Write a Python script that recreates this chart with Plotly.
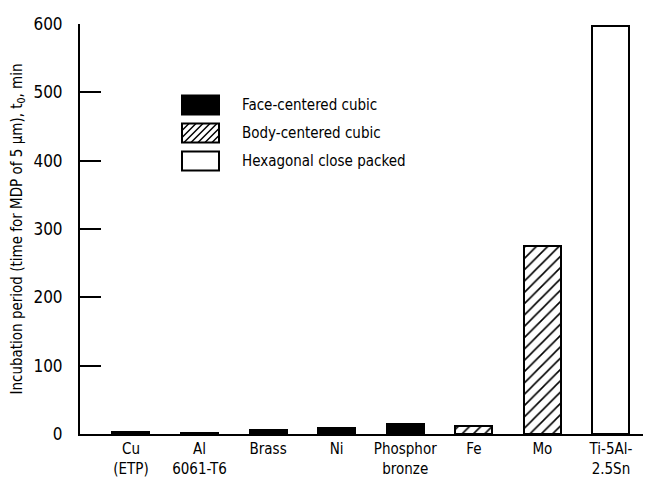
import plotly.graph_objects as go

# ── Data ──────────────────────────────────────────────────────────────
materials = ["Cu<br>(ETP)", "Al<br>6061-T6", "Brass", "Ni",
             "Phosphor<br>bronze", "Fe", "Mo", "Ti-5Al-<br>2.5Sn"]
incubation_min = [2.5, 1.5, 6, 9, 15, 12, 275, 597]
structure = ["fcc", "fcc", "fcc", "fcc", "fcc", "bcc", "bcc", "hcp"]

structure_names = {
    "fcc": "Face-centered cubic",
    "bcc": "Body-centered cubic",
    "hcp": "Hexagonal close packed",
}
y_ticks = [0, 100, 200, 300, 400, 500, 600]

FONT = "DejaVu Sans Condensed, Liberation Sans Narrow, DejaVu Sans, sans-serif"

styles = {
    "fcc": dict(color="black", pattern=dict(shape="")),
    "bcc": dict(color="white", pattern=dict(shape="/", fgcolor="black",
                                            bgcolor="white", size=8,
                                            solidity=0.2, fgopacity=1)),
    "hcp": dict(color="white", pattern=dict(shape="")),
}

fig = go.Figure()

for key in ["fcc", "bcc", "hcp"]:
    idx = [i for i, s in enumerate(structure) if s == key]
    fig.add_trace(go.Bar(
        x=idx,
        y=[incubation_min[i] for i in idx],
        width=0.54,
        name=structure_names[key],
        marker=dict(color=styles[key]["color"],
                    pattern=styles[key]["pattern"],
                    line=dict(color="black", width=2)),
        showlegend=False,
    ))

# ── Hand-drawn legend (large swatches like the original) ─────────────
# plot area: 576 x 410 px, so convert px offsets into paper units
PW, PH = 576.0, 410.0
def px_x(p):
    return (p - 72) / PW
def px_y(p):
    return (426 - p) / PH

shapes = []
annotations = []
sw_left, sw_right, sw_h = 174, 211, 19
row_centres = [97, 125, 153]
for key, yc in zip(["fcc", "bcc", "hcp"], row_centres):
    top, bot = yc - sw_h / 2, yc + sw_h / 2
    shapes.append(dict(
        type="rect", xref="paper", yref="paper",
        x0=px_x(sw_left), x1=px_x(sw_right), y0=px_y(bot), y1=px_y(top),
        fillcolor="black" if key == "fcc" else "white",
        line=dict(color="black", width=2), layer="above",
    ))
    if key == "bcc":
        # diagonal hatch lines inside the swatch
        path = ""
        step = 7
        h = bot - top
        x = sw_left - h
        while x < sw_right:
            xa, ya = x, bot
            xb, yb = x + h, top
            if xa < sw_left:
                ya = bot - (sw_left - xa)
                xa = sw_left
            if xb > sw_right:
                yb = top + (xb - sw_right)
                xb = sw_right
            if xb > xa:
                path += f"M{px_x(xa)},{px_y(ya)} L{px_x(xb)},{px_y(yb)} "
            x += step
        shapes.append(dict(type="path", xref="paper", yref="paper",
                           path=path, line=dict(color="black", width=1.5),
                           layer="above"))
    annotations.append(dict(
        xref="paper", yref="paper", x=px_x(232), y=px_y(yc),
        text=structure_names[key], showarrow=False,
        xanchor="left", yanchor="middle",
        font=dict(family=FONT, size=15, color="black"),
    ))

fig.update_layout(
    width=651, height=481,
    plot_bgcolor="white", paper_bgcolor="white",
    margin=dict(l=72, r=3, t=16, b=55),
    font=dict(family=FONT, size=15, color="black"),
    bargap=0,
    shapes=shapes,
    annotations=annotations,
    xaxis=dict(
        range=[-0.743, 7.657],
        tickmode="array", tickvals=list(range(len(materials))),
        ticktext=materials,
        showline=True, linecolor="black", linewidth=2,
        ticks="", showgrid=False, zeroline=False,
        tickfont=dict(family=FONT, size=15),
    ),
    yaxis=dict(
        range=[0, 600],
        tickmode="array", tickvals=y_ticks,
        showline=True, linecolor="black", linewidth=2,
        ticks="inside", ticklen=21, tickwidth=2, tickcolor="black",
        ticklabelstandoff=12,
        showgrid=False, zeroline=False,
        tickfont=dict(family=FONT, size=17),
        title=dict(
            text="Incubation period (time for MDP of 5 \u00b5m), t<sub>0</sub>, min",
            font=dict(family=FONT, size=15), standoff=8,
        ),
    ),
)

fig.write_html("out.html")
